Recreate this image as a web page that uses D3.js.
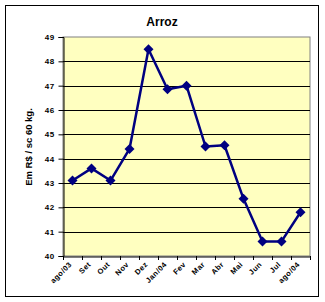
<!DOCTYPE html>
<html>
<head>
<meta charset="utf-8">
<script src="https://cdn.jsdelivr.net/npm/d3@7"></script>
<style>
  body { margin: 0; background: #fff; }
  svg { display: block; }
</style>
</head>
<body>
<svg id="chart" width="325" height="302"></svg>
<script>
const months = ["ago/03", "Set", "Out", "Nov", "Dez", "Jan/04", "Fev", "Mar", "Abr", "Mai", "Jun", "Jul", "ago/04"];
const prices = [43.1, 43.6, 43.1, 44.4, 48.5, 46.85, 47.0, 44.5, 44.55, 42.35, 40.6, 40.6, 41.8];
const yTicks = [40, 41, 42, 43, 44, 45, 46, 47, 48, 49];

const svg = d3.select("#chart");
const plot = { left: 63, right: 310, top: 37, bottom: 256 };
const font = "Liberation Sans, Arial, sans-serif";

// outer frame
svg.append("rect")
    .attr("x", 5.5).attr("y", 5.5)
    .attr("width", 313).attr("height", 291)
    .attr("fill", "#fff").attr("stroke", "#000").attr("stroke-width", 1);

const x = d3.scaleBand().domain(months).range([plot.left, plot.right]);
const y = d3.scaleLinear().domain([40, 49]).range([plot.bottom, plot.top]);

svg.append("rect")
    .attr("x", plot.left).attr("y", plot.top)
    .attr("width", plot.right - plot.left).attr("height", plot.bottom - plot.top)
    .attr("fill", "#ffffc0").attr("stroke", "#808080").attr("stroke-width", 1);

// gridlines
svg.append("g").selectAll("line")
    .data(yTicks.slice(1, -1))
    .join("line")
    .attr("x1", plot.left).attr("x2", plot.right)
    .attr("y1", d => Math.round(y(d)) + 0.5).attr("y2", d => Math.round(y(d)) + 0.5)
    .attr("stroke", "#000").attr("stroke-width", 1);

// y axis
const yAxis = svg.append("g")
    .attr("transform", `translate(${plot.left + 0.5},0)`)
    .call(d3.axisLeft(y).tickValues(yTicks).tickSize(5).tickPadding(4).tickFormat(d3.format("d")));
yAxis.select(".domain").attr("stroke", "#000");
yAxis.selectAll("line").attr("stroke", "#000");
yAxis.selectAll("text")
    .attr("font-family", font)
    .attr("font-weight", "bold").attr("font-size", "8px")
    .attr("letter-spacing", "0.4px").attr("fill", "#000");

// x axis
const xAxis = svg.append("g")
    .attr("transform", `translate(0,${plot.bottom + 0.5})`)
    .call(d3.axisBottom(x).tickSize(0).tickFormat(""));
xAxis.select(".domain").attr("stroke", "#000");
svg.append("g").selectAll("line")
    .data(d3.range(months.length + 1))
    .join("line")
    .attr("x1", i => plot.left + i * x.step() + 0.5)
    .attr("x2", i => plot.left + i * x.step() + 0.5)
    .attr("y1", plot.bottom).attr("y2", plot.bottom + 4)
    .attr("stroke", "#000");

svg.append("g").selectAll("text")
    .data(months)
    .join("text")
    .attr("transform", d => `translate(${x(d) + x.bandwidth() / 2 - 2},${plot.bottom + 7}) rotate(-45)`)
    .attr("text-anchor", "end")
    .attr("dy", "0.35em")
    .attr("font-family", font)
    .attr("font-weight", "bold").attr("font-size", "7.5px")
    .attr("letter-spacing", "0.5px")
    .text(d => d);

// title
svg.append("text")
    .attr("x", 162).attr("y", 26)
    .attr("text-anchor", "middle")
    .attr("font-family", font)
    .attr("font-weight", "bold").attr("font-size", "12px")
    .text("Arroz");

// y label
svg.append("text")
    .attr("transform", "translate(32,147) rotate(-90)")
    .attr("text-anchor", "middle")
    .attr("font-family", font)
    .attr("font-weight", "bold").attr("font-size", "9.5px")
    .text("Em R$ / sc 60 kg.");

// series
const line = d3.line()
    .x((d, i) => x(months[i]) + x.bandwidth() / 2)
    .y(d => y(d));

svg.append("path")
    .datum(prices)
    .attr("d", line)
    .attr("fill", "none")
    .attr("stroke", "#000080")
    .attr("stroke-width", 2.5)
    .attr("stroke-linejoin", "round");

svg.append("g").selectAll("path")
    .data(prices)
    .join("path")
    .attr("transform", (d, i) => `translate(${x(months[i]) + x.bandwidth() / 2},${y(d)}) rotate(45)`)
    .attr("d", d3.symbol(d3.symbolSquare, 50))
    .attr("fill", "#000080");
</script>
</body>
</html>
